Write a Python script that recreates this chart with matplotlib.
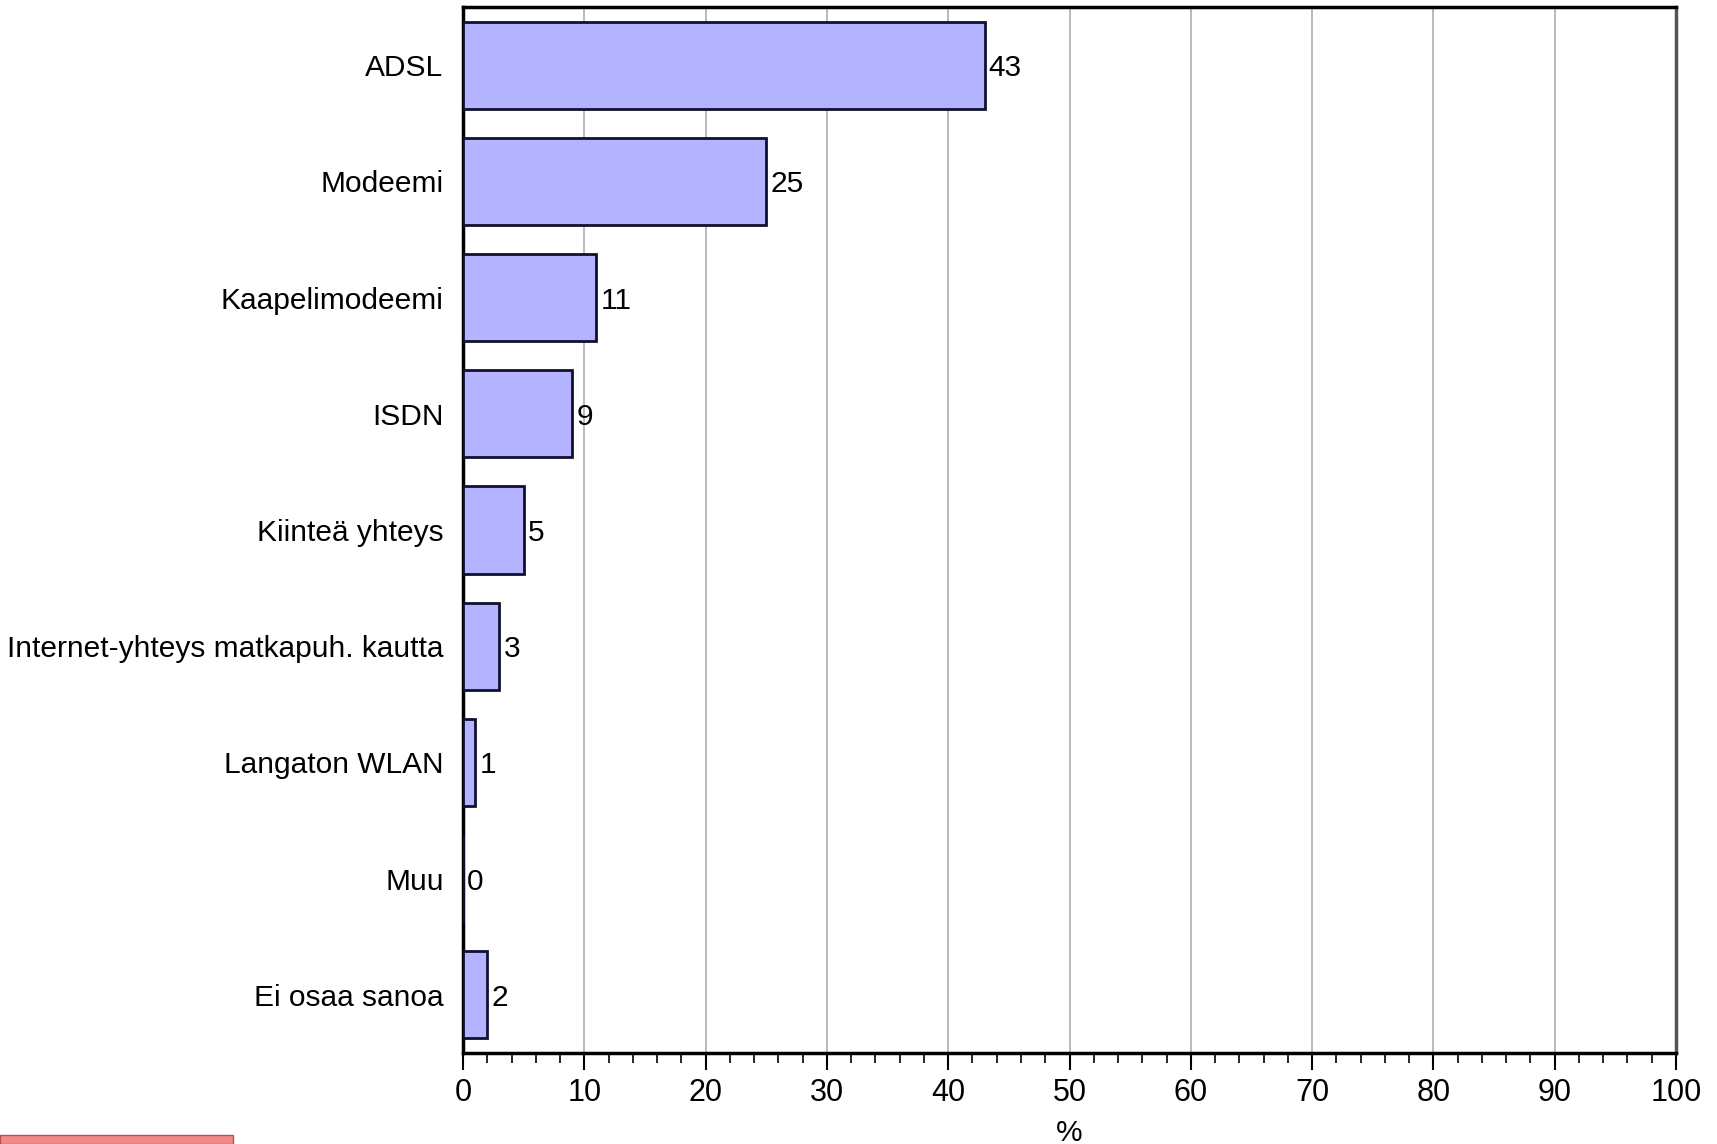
import matplotlib
matplotlib.use("Agg")
import matplotlib.pyplot as plt
from matplotlib.patches import Rectangle

# data
categories = ["ADSL", "Modeemi", "Kaapelimodeemi", "ISDN", "Kiinteä yhteys",
              "Internet-yhteys matkapuh. kautta", "Langaton WLAN", "Muu", "Ei osaa sanoa"]
values = [43, 25, 11, 9, 5, 3, 1, 0, 2]
xticks = list(range(0, 101, 10))

plt.rcParams['font.family'] = ['Liberation Sans', 'DejaVu Sans']
fs = 21.5

fig = plt.figure(figsize=(17.17, 11.44), dpi=100)
ax = fig.add_axes([463/1717, 1-1053/1144, 1213/1717, 1046/1144])

ypos = list(range(len(categories)))
ax.barh(ypos, values, height=0.75, color='#b3b3ff', edgecolor='#101030', linewidth=2, zorder=3)
for y, v in zip(ypos, values):
    ax.text(v + 0.35, y, str(v), va='center_baseline', ha='left', fontsize=fs, zorder=4)

ax.set_ylim(len(categories) - 0.5, -0.5)
ax.set_xlim(0, 100)
ax.set_yticks(ypos)
ax.set_yticklabels(categories, fontsize=fs)
ax.tick_params(axis='y', length=0, pad=14)
ax.set_xticks(xticks)
ax.set_xticklabels([str(t) for t in xticks], fontsize=22)
ax.set_xticks(range(0, 101, 2), minor=True)
# ticks point down below the axis
ax.tick_params(axis='x', which='minor', direction='out', length=7, width=1.2)
ax.tick_params(axis='x', which='major', direction='out', length=12, width=1.5, pad=6)
ax.set_xlabel('%', fontsize=fs, labelpad=8)

ax.grid(axis='x', color='#b4b4b4', linewidth=1.3, zorder=0)
for s in ['left', 'bottom', 'top']:
    ax.spines[s].set_linewidth(2.5)
    ax.spines[s].set_color('black')
ax.spines['right'].set_linewidth(2.5)
ax.spines['right'].set_color('#555555')

# red strip at the bottom left
fig.patches.append(Rectangle((0, 0), 233/1717, 9/1144, transform=fig.transFigure,
                             facecolor='#f08a8a', edgecolor='#b85050', linewidth=1))

fig.savefig('out.png', dpi=100)
